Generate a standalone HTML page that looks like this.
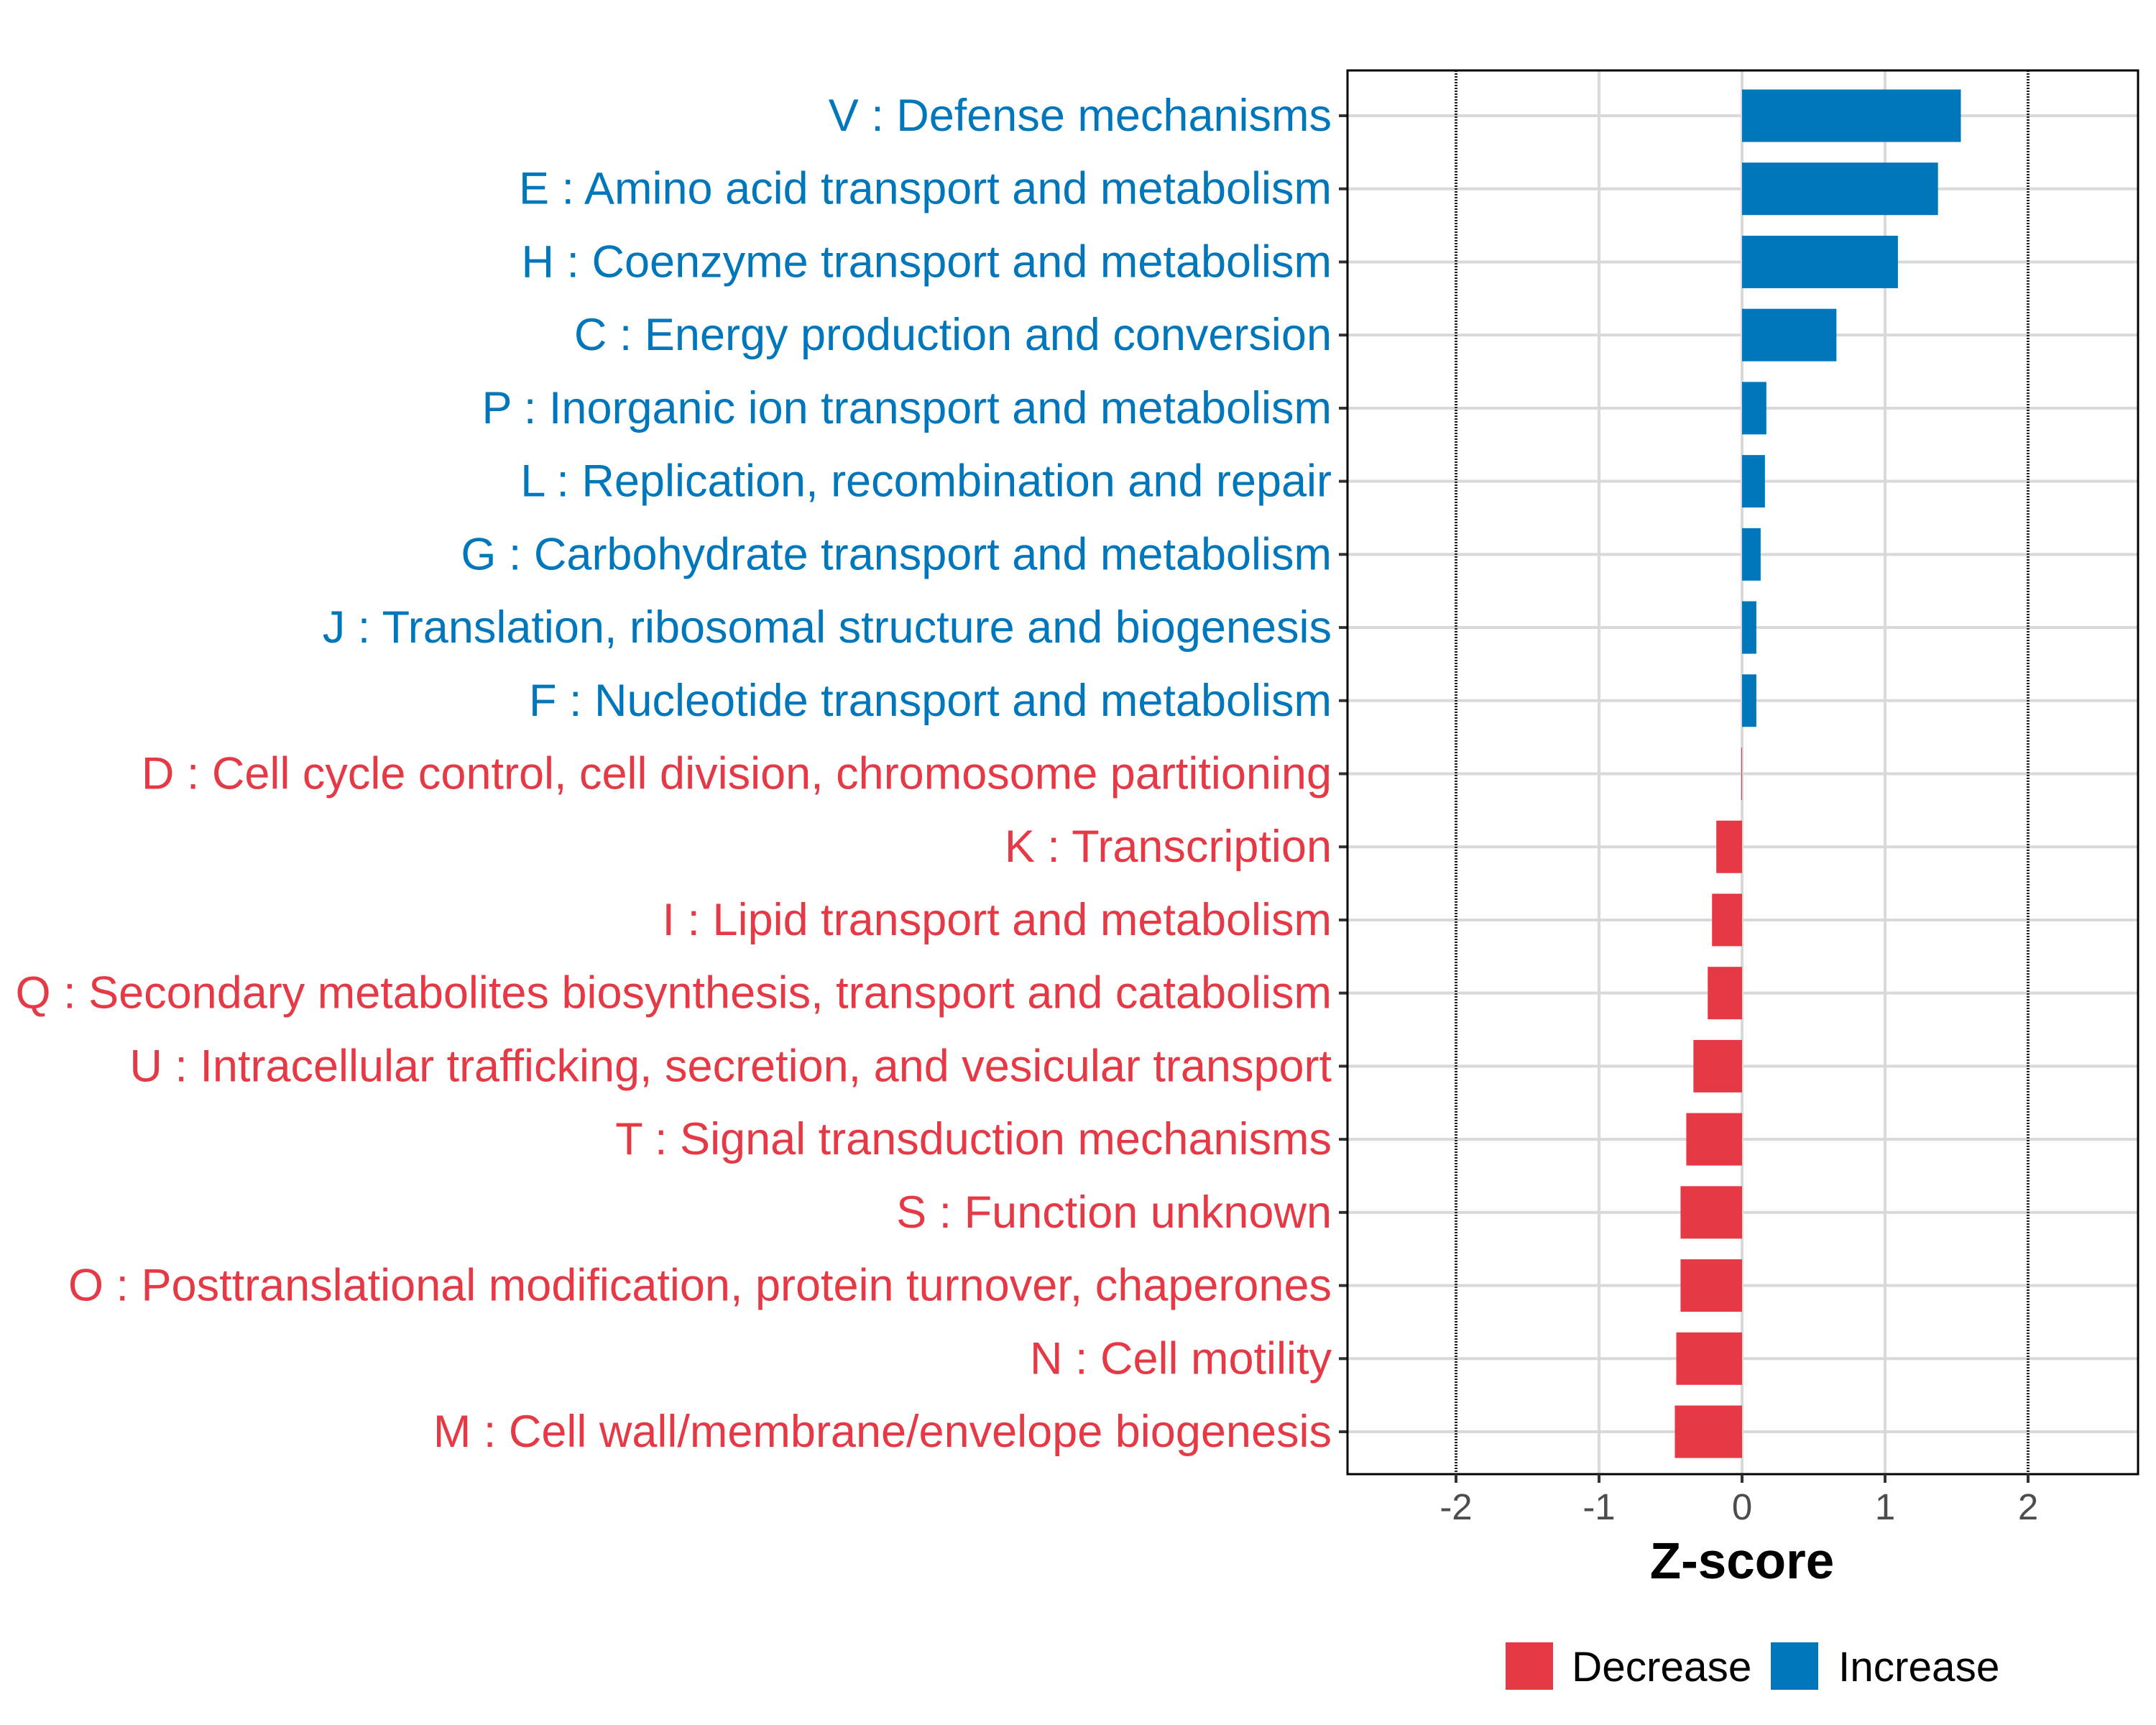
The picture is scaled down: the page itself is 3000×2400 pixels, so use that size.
<!DOCTYPE html>
<html><head><meta charset="utf-8"><style>
html,body{margin:0;padding:0;background:#fff}
svg{display:block;font-family:"Liberation Sans",Arial,sans-serif}
</style></head><body>
<svg id="chart" width="3000" height="2400" viewBox="0 0 3000 2400"></svg>
<script>
const categories=["V : Defense mechanisms","E : Amino acid transport and metabolism","H : Coenzyme transport and metabolism","C : Energy production and conversion","P : Inorganic ion transport and metabolism","L : Replication, recombination and repair","G : Carbohydrate transport and metabolism","J : Translation, ribosomal structure and biogenesis","F : Nucleotide transport and metabolism","D : Cell cycle control, cell division, chromosome partitioning","K : Transcription","I : Lipid transport and metabolism","Q : Secondary metabolites biosynthesis, transport and catabolism","U : Intracellular trafficking, secretion, and vesicular transport","T : Signal transduction mechanisms","S : Function unknown","O : Posttranslational modification, protein turnover, chaperones","N : Cell motility","M : Cell wall/membrane/envelope biogenesis"];
const zscores=[1.53,1.37,1.09,0.66,0.17,0.16,0.13,0.10,0.10,-0.005,-0.18,-0.21,-0.24,-0.34,-0.39,-0.43,-0.43,-0.46,-0.47];
const xTicks=[-2,-1,0,1,2];
const xTickLabels=["-2","-1","0","1","2"];
const legendLabels=["Decrease","Increase"];

const NS="http://www.w3.org/2000/svg";
const svg=document.getElementById('chart');
const BLUE="#0077bb",RED="#e63946";
const L=1875,R=2975,T=98,B=2051;
const x0=2424,unit=199;
const xs=v=>x0+v*unit;
const yFirst=161,yStep=(1992-161)/18;
const ys=i=>yFirst+i*yStep;
const barH=73;
function mk(tag,attrs,parent){const e=document.createElementNS(NS,tag);for(const k in attrs)e.setAttribute(k,attrs[k]);(parent||svg).appendChild(e);return e;}

const panel=mk('rect',{x:L,y:T,width:R-L,height:B-T,fill:'#fff'});


categories.forEach((c,i)=>{const g=mk('line',{x1:L,x2:R,y1:ys(i),y2:ys(i),stroke:'#d9d9d9','stroke-width':4});

});
xTicks.forEach(v=>{const dotted=Math.abs(v)===2;const g=mk('line',{x1:xs(v),x2:xs(v),y1:T,y2:B,stroke:dotted?'#222':'#d9d9d9','stroke-width':4,'stroke-dasharray':dotted?'2,2':'none'});

});
categories.forEach((c,i)=>{const v=zscores[i];const col=v>=0?BLUE:RED;
const b=mk('rect',{x:Math.min(xs(0),xs(v)),y:ys(i)-barH/2,width:Math.max(Math.abs(xs(v)-xs(0)),1),height:barH,fill:col});


const t=mk('text',{x:L-22,y:ys(i)+21,'text-anchor':'end','font-size':63,fill:col});t.textContent=c;


const tk=mk('line',{x1:L-12,x2:L,y1:ys(i),y2:ys(i),stroke:'#333','stroke-width':4});

});
const br=mk('rect',{x:L,y:T,width:R-L,height:B-T,fill:'none',stroke:'#000','stroke-width':3});


xTicks.forEach((v,i)=>{const tk=mk('line',{x1:xs(v),x2:xs(v),y1:B,y2:B+12,stroke:'#333','stroke-width':4});


const t=mk('text',{x:xs(v),y:B+63,'text-anchor':'middle','font-size':51,fill:'#4d4d4d'});t.textContent=xTickLabels[i];

});
const xt=mk('text',{x:x0,y:2196,'text-anchor':'middle','font-size':71,'font-weight':'bold',fill:'#000'});xt.textContent='Z-score';


const lx=[2095,2464],tx=[2187,2558],lc=[RED,BLUE];
legendLabels.forEach((lab,i)=>{const r=mk('rect',{x:lx[i],y:2285,width:66,height:66,fill:lc[i]});


const t=mk('text',{x:tx[i],y:2339,'font-size':58.5,fill:'#000'});t.textContent=lab;

});
</script>
</body></html>
